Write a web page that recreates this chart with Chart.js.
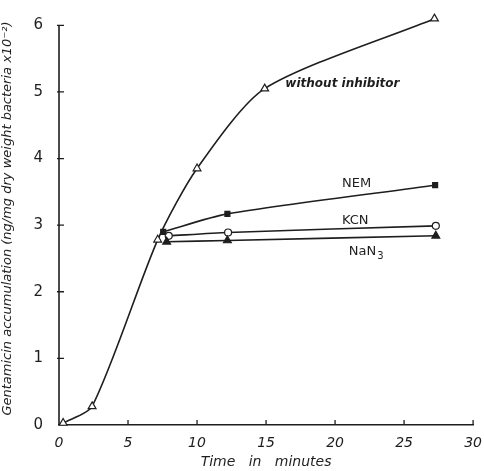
<!DOCTYPE html>
<html>
<head>
<meta charset="utf-8">
<script src="https://cdn.jsdelivr.net/npm/chart.js@4.4.1/dist/chart.umd.min.js"></script>
<style>
  html, body { margin: 0; padding: 0; background: #fff; }
  #wrap { width: 484px; height: 471px; }
</style>
</head>
<body>
<div id="wrap"><canvas id="chart" width="484" height="471"></canvas></div>
<script>
// values (time in minutes, accumulation x10^-2)
const withoutX = [0.3, 2.4, 7.15, 10, 14.9, 27.2];
const withoutY = [0.03, 0.28, 2.78, 3.85, 5.05, 6.1];
const nemX = [7.55, 12.2, 27.25];
const nemY = [2.9, 3.17, 3.6];
const kcnX = [7.95, 12.25, 27.3];
const kcnY = [2.84, 2.89, 2.99];
const nan3X = [7.8, 12.2, 27.3];
const nan3Y = [2.75, 2.77, 2.84];
const xTicks = [0, 5, 10, 15, 20, 25, 30];
const yTicks = [0, 1, 2, 3, 4, 5, 6];

const ink = '#1e1e1e';

function pts(xs, ys) {
    return xs.map((x, i) => ({ x: x, y: ys[i] }));
}

// curve labels, placed in data units
const curveLabels = [
    { text: 'without inhibitor', x: 16.4, y: 5.12, bold: true },
    { text: 'NEM', x: 20.5, y: 3.62 },
    { text: 'KCN', x: 20.5, y: 3.07 },
    { text: 'NaN', sub: '3', x: 21.0, y: 2.6 }
];

const labelPlugin = {
    id: 'curveLabels',
    afterDatasetsDraw(chart) {
        const ctx = chart.ctx;
        const xs = chart.scales.x, ys = chart.scales.y;
        ctx.save();
        ctx.fillStyle = ink;
        ctx.textBaseline = 'middle';
        curveLabels.forEach(l => {
            const px = xs.getPixelForValue(l.x);
            const py = ys.getPixelForValue(l.y);
            ctx.font = (l.bold ? 'italic bold 12px ' : '13px ') + '"DejaVu Sans", sans-serif';
            ctx.fillText(l.text, px, py);
            if (l.sub) {
                const w = ctx.measureText(l.text).width;
                ctx.font = '10px "DejaVu Sans", sans-serif';
                ctx.fillText(l.sub, px + w + 1, py + 5);
            }
        });
        ctx.restore();
    }
};

// left axis line (0..6 only) and tick marks pointing into the plot
const axisMarks = {
    id: 'axisMarks',
    afterDraw(chart) {
        const ctx = chart.ctx;
        const xs = chart.scales.x, ys = chart.scales.y;
        const a = chart.chartArea;
        const y0 = ys.getPixelForValue(yTicks[0]);
        const yTop = ys.getPixelForValue(yTicks[yTicks.length - 1]);
        ctx.save();
        ctx.strokeStyle = ink;
        ctx.lineWidth = 1.6;
        ctx.beginPath();
        ctx.moveTo(a.left, y0);
        ctx.lineTo(a.left, yTop);
        ctx.stroke();
        ctx.lineWidth = 1.3;
        ctx.beginPath();
        xTicks.forEach(v => {
            if (v === 0) return;
            const p = xs.getPixelForValue(v);
            ctx.moveTo(p, a.bottom);
            ctx.lineTo(p, a.bottom - 5);
        });
        yTicks.forEach(v => {
            if (v === 0) return;
            const p = ys.getPixelForValue(v);
            ctx.moveTo(a.left - 2, p);
            ctx.lineTo(a.left + 5, p);
        });
        ctx.stroke();
        ctx.restore();
    }
};

function series(label, xs, ys, style, fill) {
    return {
        label: label,
        data: pts(xs, ys),
        showLine: true,
        clip: false,
        borderColor: ink,
        borderWidth: 1.6,
        tension: 0.25,
        pointStyle: style,
        pointRadius: style === 'triangle' ? 4.5 : 3.5,
        pointBackgroundColor: fill,
        pointBorderColor: ink,
        pointBorderWidth: 1.2
    };
}

new Chart(document.getElementById('chart'), {
    type: 'scatter',
    data: {
        datasets: [
            series('without inhibitor', withoutX, withoutY, 'triangle', '#fff'),
            series('NEM', nemX, nemY, 'rect', ink),
            series('NaN3', nan3X, nan3Y, 'triangle', ink),
            series('KCN', kcnX, kcnY, 'circle', '#fff')
        ]
    },
    options: {
        responsive: false,
        animation: false,
        layout: { padding: { top: 12, right: 9, left: 0, bottom: 0 } },
        plugins: {
            legend: { display: false },
            tooltip: { enabled: false }
        },
        scales: {
            x: {
                type: 'linear',
                min: 0, max: 30,
                afterBuildTicks: s => { s.ticks = xTicks.map(v => ({ value: v })); },
                afterFit: s => { s.height = 46; },
                grid: { display: false },
                border: { display: true, color: ink, width: 1.6 },
                ticks: {
                    color: ink,
                    padding: 2,
                    font: { family: '"DejaVu Sans", sans-serif', size: 14, style: 'italic' }
                },
                title: {
                    display: true,
                    text: 'Time   in   minutes',
                    color: ink,
                    padding: { top: 0, bottom: 0 },
                    font: { family: '"DejaVu Sans", sans-serif', size: 14, style: 'italic' }
                }
            },
            y: {
                min: 0, max: 6.2,
                afterBuildTicks: s => { s.ticks = yTicks.map(v => ({ value: v })); },
                afterFit: s => { s.width = 59; s.paddingTop = 0; s.paddingBottom = 0; },
                grid: { display: false },
                border: { display: false },
                ticks: {
                    color: ink,
                    padding: 8,
                    font: { family: '"DejaVu Sans", sans-serif', size: 15 }
                },
                title: {
                    display: true,
                    text: 'Gentamicin accumulation (ng/mg dry weight bacteria x10\u207B\u00B2)',
                    color: ink,
                    padding: { top: 0, bottom: 2 },
                    font: { family: '"DejaVu Sans", sans-serif', size: 13, style: 'italic' }
                }
            }
        }
    },
    plugins: [labelPlugin, axisMarks]
});
</script>
</body>
</html>
